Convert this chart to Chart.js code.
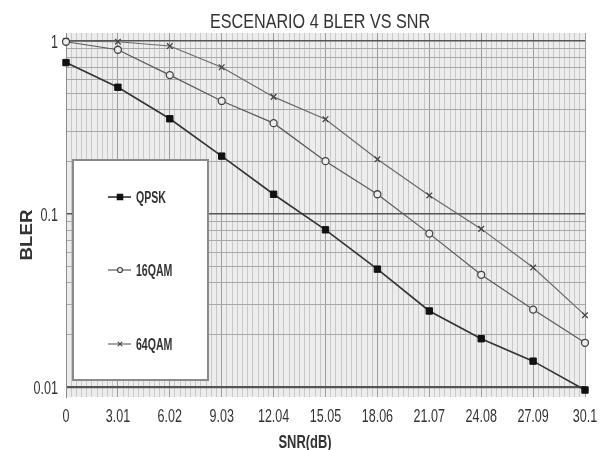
<!DOCTYPE html>
<html>
<head>
<meta charset="utf-8">
<script src="https://cdn.jsdelivr.net/npm/chart.js@4.4.0/dist/chart.umd.min.js"></script>
<style>
  html, body { margin: 0; padding: 0; background: #fff; }
  #wrap { width: 602px; height: 450px; }
</style>
</head>
<body>
<div id="wrap"><canvas id="c" width="602" height="450"></canvas></div>
<script>
// values
const snr = ['0', '3.01', '6.02', '9.03', '12.04', '15.05', '18.06', '21.07', '24.08', '27.09', '30.1'];
const qpsk = [0.75, 0.54, 0.355, 0.216, 0.13, 0.081, 0.048, 0.0275, 0.019, 0.0141, 0.0096];
const qam16 = [0.99, 0.89, 0.635, 0.45, 0.335, 0.202, 0.13, 0.077, 0.0445, 0.028, 0.018];
const qam64 = [1.0, 0.99, 0.935, 0.705, 0.475, 0.353, 0.207, 0.128, 0.082, 0.049, 0.026];
const yGrid = [0.01, 0.02, 0.03, 0.04, 0.05, 0.06, 0.07, 0.08, 0.09,
               0.1, 0.2, 0.3, 0.4, 0.5, 0.6, 0.7, 0.8, 0.9, 1];
const yLabels = [0.01, 0.1, 1];

const sans = "'Liberation Sans', Arial, sans-serif";
const isMajor = v => yLabels.includes(v);

// text squeezed horizontally, the original uses a narrow face
function narrowText(ctx, txt, x, y, font, sx, align) {
  ctx.save();
  ctx.font = font;
  ctx.textAlign = align || 'center';
  ctx.textBaseline = 'alphabetic';
  ctx.translate(x, y);
  ctx.scale(sx, 1);
  ctx.fillText(txt, 0, 0);
  ctx.restore();
}

// plot background + texts
const backdrop = {
  id: 'backdrop',
  beforeDraw(chart) {
    const { ctx, chartArea: a } = chart;
    ctx.save();
    ctx.fillStyle = '#ededed';
    ctx.fillRect(a.left, a.top, a.right - a.left, a.bottom - a.top);
    ctx.restore();
  },
  afterDraw(chart) {
    const ctx = chart.ctx;
    const xs = chart.scales.x, ys = chart.scales.y;
    ctx.save();
    ctx.fillStyle = '#333';
    narrowText(ctx, 'ESCENARIO 4 BLER VS SNR', 320, 28, '21px ' + sans, 0.77);
    xs.ticks.forEach((t, i) => {
      narrowText(ctx, chart.data.labels[i], xs.getPixelForTick(i), 422, '19px ' + sans, 0.66);
    });
    yLabels.forEach(v => {
      narrowText(ctx, String(v), 58, ys.getPixelForValue(v) + 7, '19px ' + sans, 0.66, 'right');
    });
    narrowText(ctx, 'SNR(dB)', 305, 448, 'bold 19px ' + sans, 0.68);
    ctx.translate(26, 235);
    ctx.rotate(-Math.PI / 2);
    narrowText(ctx, 'BLER', 0, 6, 'bold 17px ' + sans, 1.1);
    ctx.restore();
  }
};

// boxed legend inside the plot
const boxLegend = {
  id: 'boxLegend',
  afterDatasetsDraw(chart) {
    const ctx = chart.ctx;
    ctx.save();
    ctx.fillStyle = '#fff';
    ctx.fillRect(73, 160, 135, 220);
    ctx.strokeStyle = '#8a8a8a';
    ctx.lineWidth = 2;
    ctx.strokeRect(73, 160, 135, 220);
    const rows = [197, 270, 344];
    chart.data.datasets.forEach((ds, i) => {
      const y = rows[i];
      ctx.strokeStyle = ds.borderColor;
      ctx.lineWidth = ds.borderWidth;
      ctx.beginPath();
      ctx.moveTo(108, y);
      ctx.lineTo(131, y);
      ctx.stroke();
      ctx.fillStyle = ds.pointBackgroundColor;
      ctx.strokeStyle = ds.pointBorderColor;
      Chart.helpers.drawPoint(ctx, {
        pointStyle: ds.pointStyle,
        radius: ds.pointRadius - 1,
        borderWidth: 1
      }, 120, y);
      ctx.fillStyle = '#333';
      narrowText(ctx, ds.label, 136, y + 6, 'bold 16px ' + sans, 0.66, 'left');
    });
    ctx.restore();
  }
};

new Chart(document.getElementById('c'), {
  type: 'line',
  data: {
    labels: snr,
    datasets: [
      {
        label: 'QPSK', data: qpsk,
        borderColor: '#333', borderWidth: 1.6,
        pointStyle: 'rect', pointRadius: 4.5,
        pointBackgroundColor: '#111', pointBorderColor: '#111', pointBorderWidth: 1
      },
      {
        label: '16QAM', data: qam16,
        borderColor: '#5a5a5a', borderWidth: 1.2,
        pointStyle: 'circle', pointRadius: 3.5,
        pointBackgroundColor: '#ededed', pointBorderColor: '#444', pointBorderWidth: 1.3
      },
      {
        label: '64QAM', data: qam64,
        borderColor: '#6a6a6a', borderWidth: 1.2,
        pointStyle: 'crossRot', pointRadius: 4,
        pointBackgroundColor: '#444', pointBorderColor: '#444', pointBorderWidth: 1.3
      }
    ]
  },
  options: {
    responsive: false,
    animation: false,
    layout: { padding: { top: 33, right: 17, left: 0, bottom: 0 } },
    plugins: {
      legend: { display: false },
      title: { display: false },
      tooltip: { enabled: false }
    },
    scales: {
      x: {
        type: 'category',
        offset: false,
        grid: { color: '#8c8c8c', lineWidth: 1, drawTicks: false },
        border: { display: false },
        ticks: { display: false, autoSkip: false },
        afterFit(s) { s.height = 53; }
      },
      xMinor: {
        type: 'linear', position: 'bottom',
        min: 0, max: 100,
        grid: { color: 'rgba(170,170,170,0.55)', lineWidth: 1, drawTicks: false },
        border: { display: false },
        ticks: { display: false, stepSize: 1, autoSkip: false, maxTicksLimit: 200 },
        afterFit(s) { s.height = 0; }
      },
      y: {
        type: 'logarithmic',
        min: 0.00875, max: 1.112,
        afterBuildTicks(s) { s.ticks = yGrid.map(v => ({ value: v })); },
        grid: {
          drawTicks: false,
          color: c => isMajor(c.tick.value) ? '#555' : '#a8a8a8',
          lineWidth: c => c.tick.value === 0.01 ? 2.2 : (isMajor(c.tick.value) ? 1.5 : 1)
        },
        border: { display: true, color: '#8c8c8c' },
        ticks: { display: false, autoSkip: false },
        afterFit(s) { s.width = 66; }
      }
    }
  },
  plugins: [backdrop, boxLegend]
});
</script>
</body>
</html>
